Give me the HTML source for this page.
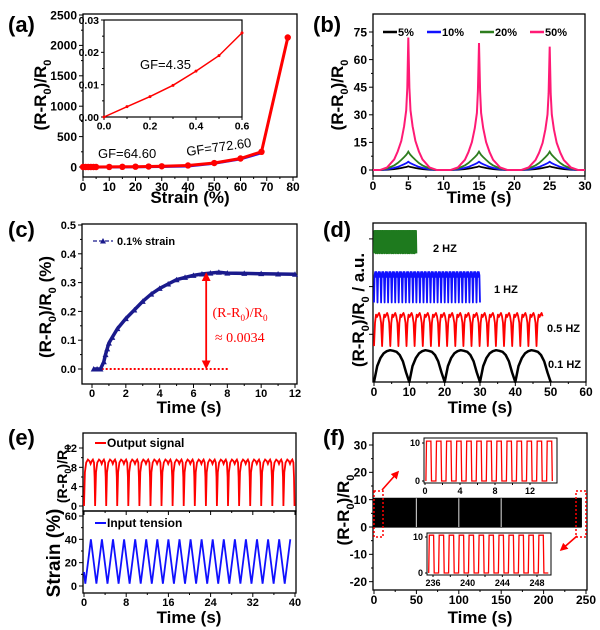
<!DOCTYPE html>
<html><head><meta charset="utf-8">
<style>
body{margin:0;background:#fff}
svg{display:block}
text{font-family:"Liberation Sans",Arial,sans-serif}
</style></head>
<body>
<svg id="fig" width="600" height="630" viewBox="0 0 600 630" xmlns="http://www.w3.org/2000/svg">
<defs>
<marker id="ah" viewBox="0 0 10 10" refX="8" refY="5" markerWidth="5" markerHeight="5" orient="auto-start-reverse"><path d="M0,0 L10,5 L0,10 z" fill="#f00"/></marker>
</defs>
</svg>
<script>
// ---------- DATA ----------
// (a)
const aStrain=[0,1,2,3,4,5,10,15,20,25,30,40,50,60,68,78];
const aResp=[0,0,0,0,0,0,1,3,5,8,12,25,65,140,250,2130];
const aBlueStrain=[0,10,20,30,40,50,60,68];
const aBlueResp=[-10,-8,-5,0,8,55,125,225];
const aInsetX=[0,0.1,0.2,0.3,0.4,0.5,0.6];
const aInsetY=[0,0.0032,0.0063,0.0098,0.0142,0.019,0.026];
const aXTicks=[0,10,20,30,40,50,60,70,80];
const aYTicks=[0,500,1000,1500,2000,2500];
// (b)
const bCenters=[5,15,25];
const bNames=['5%','10%','20%','50%'];
const bPeaks=[[2,2,2],[4.5,4.5,4.5],[10,10,10],[72,69,67]];
const bProfileOffsets=[-4,-3,-2,-1.5,-1,-0.6,-0.3,-0.15,0,0.15,0.3,0.6,1,1.5,2,3,4];
const bProfileFrac=[0,0.02,0.08,0.14,0.22,0.33,0.45,0.62,1,0.62,0.45,0.33,0.22,0.14,0.08,0.02,0];
const bProfileFracWide=[0,0.08,0.25,0.38,0.55,0.7,0.82,0.9,1,0.9,0.82,0.7,0.55,0.38,0.25,0.08,0];
const bXTicks=[0,5,10,15,20,25,30];
const bYTicks=[0,15,30,45,60,75];
// (c)
const cT=[0.1,0.3,0.5,0.7,0.8,0.9,1.0,1.2,1.5,2,2.5,3,3.5,4,4.5,5,5.5,6,6.5,7,7.5,8,9,10,11,12];
const cV=[0,0,0,0.025,0.05,0.07,0.09,0.11,0.14,0.175,0.205,0.235,0.26,0.28,0.295,0.31,0.318,0.325,0.33,0.333,0.336,0.333,0.332,0.331,0.33,0.329];
const cXTicks=[0,2,4,6,8,10,12];
const cYTicks=[0,0.1,0.2,0.3,0.4,0.5];
// (d)
const dLabels=['0.1 HZ','0.5 HZ','1 HZ','2 HZ'];
const dDur=[50,48,30,12];
const dPeriod=[10,2.3,1,0.5];
const dBase=[0,1.13,2.45,3.74];
const dAmp=[1,1.04,1.01,1.01];
const dShapes=[[0,0.5,0.75,0.9,0.97,1,0.98,0.95,0.85,0.65,0.3,0],[0,0.7,0.95,0.88,0.95,1,0.9,0.7,0],[0.05,0.9,1,0.85,1,0.9,0.05],[0.3,1,0.95,1,0.3]];
const dXTicks=[0,10,20,30,40,50,60];
const dYTicks=[1.5,3,4.5];
// (e)
const ePeriod=2.1;
const eRedPhase=[0,0.08,0.2,0.35,0.5,0.6,0.7,0.8,0.9,0.96,1];
const eRedVal=[0,7,9,9.6,9.3,8.7,9.3,9.6,9,6,0];
const eBluePhase=[0,0.5,1];
const eBlueVal=[2,40,2];
const eXTicks=[0,8,16,24,32,40];
const eTopYTicks=[0,4,8,12];
const eBotYTicks=[0,20,40,60];
// (f)
const fDur=245;
const fPeriod=1.15;
const fPhase=[0,0.06,0.5,0.56,1];
const fVal=[0,10.5,10.5,0,0];
const fGaps=[50,100,150];
const fXTicks=[0,50,100,150,200,250];
const fYTicks=[-20,-10,0,10,20,30];
const fTopInsetTicks=[0,4,8,12];
const fBotInsetTicks=[236,240,244,248];

// ---------- HELPERS ----------
const NS='http://www.w3.org/2000/svg';
const svg=document.getElementById('fig');
function el(tag,attrs,parent){const e=document.createElementNS(NS,tag);for(const k in attrs)e.setAttribute(k,attrs[k]);(parent||svg).appendChild(e);return e;}
function lin(d0,d1,r0,r1){return v=>r0+(v-d0)*(r1-r0)/(d1-d0);}
function T(x,y,str,size,anchor,weight,fill,rot){
  const t=el('text',{x:x,y:y,'font-size':size,'text-anchor':anchor||'middle','font-weight':weight||'bold',fill:fill||'#000'});
  if(rot)t.setAttribute('transform','rotate('+rot+' '+x+' '+y+')');
  t.textContent=str;return t;
}
function ratioTitle(x,y,size,rot,suffix,fill,family){
  const t=el('text',{x:x,y:y,'font-size':size,'text-anchor':'middle','font-weight':family?'normal':'bold',fill:fill||'#000'});
  if(family)t.setAttribute('style','font-family:'+family);
  if(rot)t.setAttribute('transform','rotate('+rot+' '+x+' '+y+')');
  const parts=[['(R-R',0],['0',1],[')/R',-1],['0',1],[suffix||'',-1]];
  parts.forEach(p=>{const s=el('tspan',{},t);s.textContent=p[0];
    if(p[1]===1){s.setAttribute('font-size',size*0.65);s.setAttribute('dy',size*0.28);}
    else if(p[1]===-1){s.setAttribute('dy',-size*0.28);}
  });
  return t;
}
function poly(pts,attrs){const p=el('polyline',Object.assign({points:pts.map(q=>q[0].toFixed(1)+','+q[1].toFixed(1)).join(' '),fill:'none'},attrs));return p;}
function axes(c){
  const g=el('g',{});
  
  
  const fr=el('rect',{x:c.L,y:c.T,width:c.R-c.L,height:c.B-c.T,fill:'none',stroke:'#000','stroke-width':c.sw||1.3},g);
  
  
  const fs=c.fs||12;
  if(c.xt){c.xt.forEach((v,i)=>{const x=c.xs(v);
    const tk=el('line',{x1:x,x2:x,y1:c.B,y2:c.B+(c.tl||4),stroke:'#000','stroke-width':1},g);
    
    
    if(i<c.xt.length-1){const xm=c.xs((v+c.xt[i+1])/2);
      const mt=el('line',{x1:xm,x2:xm,y1:c.B,y2:c.B+2,stroke:'#000','stroke-width':1},g);
      
      }
    if(!c.noXL){const lb=T(x,c.B+fs+2,c.xd!=null?v.toFixed(c.xd):String(v),fs,'middle','bold','#000');
      
      }
  });}
  if(c.yt){c.yt.forEach((v,i)=>{const y=c.ys(v);
    const tk=el('line',{x1:c.L-(c.tl||4),x2:c.L,y1:y,y2:y,stroke:'#000','stroke-width':1},g);
    
    
    if(!c.noYMinor&&i<c.yt.length-1){const ym=c.ys((v+c.yt[i+1])/2);
      const mt=el('line',{x1:c.L-2,x2:c.L,y1:ym,y2:ym,stroke:'#000','stroke-width':1},g);
      
      }
    if(!c.noYL){const lb=T(c.L-(c.tl||4)-2,y+fs*0.36,c.yd!=null?v.toFixed(c.yd):String(v),fs,'end','bold','#000');
      
      }
  });}
  return g;
}
function repeatWave(t0,t1,period,phase,val,xs,ys,base,amp){
  const pts=[];let k=0;
  while(t0+k*period<t1){for(let j=0;j<phase.length;j++){const t=t0+(k+phase[j])*period;if(t>t1)break;pts.push([xs(t),ys(base+amp*val[j])]);}k++;}
  return pts;
}
let e;

// ---------- PANEL A ----------
const aXs=lin(0,80,83,293), aYs=lin(0,2500,167,15);
axes({name:'panel-a-axes',L:83,R:297,T:14,B:177,xs:aXs,ys:aYs,xt:aXTicks,yt:aYTicks});
e=poly(aBlueStrain.map((v,i)=>[aXs(v),aYs(aBlueResp[i])]),{stroke:'#1010ff','stroke-width':2});


e=poly(aStrain.map((v,i)=>[aXs(v),aYs(aResp[i])]),{stroke:'#f00','stroke-width':3});


aStrain.forEach((v,i)=>{const m=el('circle',{cx:aXs(v),cy:aYs(aResp[i]),r:3.2,fill:'#f00'});
  
  });
const aiXs=lin(0,0.6,104,242), aiYs=lin(0,0.03,117,20);
e=el('rect',{x:104,y:20,width:138,height:97,fill:'#fff'});


axes({name:'panel-a-inset-axes',L:104,R:242,T:20,B:117,xs:aiXs,ys:aiYs,xt:[0,0.2,0.4,0.6],yt:[0,0.01,0.02,0.03],xd:1,yd:2,fs:10.5,tl:3,sw:1.2});
e=poly(aInsetX.map((v,i)=>[aiXs(v),aiYs(aInsetY[i])]),{stroke:'#f00','stroke-width':1.5});


aInsetX.forEach((v,i)=>{const m=el('circle',{cx:aiXs(v),cy:aiYs(aInsetY[i]),r:1.5,fill:'#f00'});
  
  });
e=T(140,69,'GF=4.35',13,'start','normal');


e=T(98,158,'GF=64.60',13,'start','normal');


e=T(187,156,'GF=772.60',13,'start','normal','#000',-8);


e=T(190,203,'Strain (%)',17);


e=ratioTitle(46,95,17,-90);


e=T(8,32,'(a)',22,'start');



// ---------- PANEL B ----------
const bXs=lin(0,30,373,585), bYs=lin(0,75,170,32);
const bColors=['#000','#1010ff','#2e7d1e','#ff1a75'];
axes({name:'panel-b-axes',L:373,R:585,T:14,B:176,xs:bXs,ys:bYs,xt:bXTicks,yt:bYTicks});
bNames.forEach((nm,si)=>{
  const prof=si===3?bProfileFrac:bProfileFracWide;
  const pts=[[bXs(0),bYs(0)]];
  bCenters.forEach((c,ci)=>{bProfileOffsets.forEach((o,j)=>{pts.push([bXs(c+o),bYs(bPeaks[si][ci]*prof[j])]);});});
  pts.push([bXs(30),bYs(0)]);
  const p=poly(pts,{stroke:bColors[si],'stroke-width':si===3?2:1.8});
  
  
});
const bLegX=[383,427,480,530];
bNames.forEach((nm,si)=>{
  const l=el('line',{x1:bLegX[si],x2:bLegX[si]+14,y1:32,y2:32,stroke:bColors[si],'stroke-width':2.5});
  
  
  const t=T(bLegX[si]+15,36,nm,11,'start');
  
  
});
e=T(479,203,'Time (s)',17);


e=ratioTitle(343,95,17,-90);


e=T(313,32,'(b)',22,'start');



// ---------- PANEL C ----------
const cXs=lin(0,12,92,295), cYs=lin(0,0.5,369,225);
axes({name:'panel-c-axes',L:82,R:297,T:224,B:384,xs:cXs,ys:cYs,xt:cXTicks,yt:cYTicks,yd:1,fs:11});
e=el('line',{x1:cXs(0.1),x2:cXs(8.1),y1:cYs(0),y2:cYs(0),stroke:'#f00','stroke-width':2,'stroke-dasharray':'2,2'});


e=poly(cT.map((t,i)=>[cXs(t),cYs(cV[i])]),{stroke:'#1a1a8c','stroke-width':3.5});


cT.forEach((t,i)=>{const x=cXs(t),y=cYs(cV[i]);
  const m=el('polygon',{points:(x-3)+','+(y+2.5)+' '+(x+3)+','+(y+2.5)+' '+x+','+(y-3),fill:'#1a1a8c'});
  
  });
e=el('line',{x1:cXs(6.75),x2:cXs(6.75),y1:cYs(0.005),y2:cYs(0.33),stroke:'#f00','stroke-width':1.8,'marker-start':'url(#ah)','marker-end':'url(#ah)'});


e=ratioTitle(240,317,14,0,'','#f00','"Liberation Serif",serif');


e=T(215,342,'≈ 0.0034',14,'start','normal','#f00');
e.setAttribute('style','font-family:"Liberation Serif",serif');


e=el('line',{x1:93,x2:113,y1:241,y2:241,stroke:'#1a1a8c','stroke-width':1.2,'stroke-dasharray':'4,2'});


e=el('polygon',{points:'100,243.5 106,243.5 103,238',fill:'#1a1a8c'});


e=T(117,245,'0.1% strain',11,'start');


e=T(189,413,'Time (s)',17);


e=ratioTitle(51,307,17,-90,' (%)');


e=T(8,237,'(c)',22,'start');



// ---------- PANEL D ----------
const dXs=lin(0,60,374,586), dYs=lin(0,5,382,223);
const dColors=['#000','#f00','#1010ff','#1e7a1e'];
axes({name:'panel-d-axes',L:373,R:586,T:223,B:382,xs:dXs,ys:dYs,xt:dXTicks,yt:dYTicks,noYL:true,noYMinor:true});
dLabels.forEach((lb,i)=>{
  const ph=dShapes[i].map((_,j)=>j/(dShapes[i].length-1));
  const pts=repeatWave(0,dDur[i],dPeriod[i],ph,dShapes[i],dXs,dYs,dBase[i],dAmp[i]);
  const p=poly(pts,{stroke:dColors[i],'stroke-width':i===0?2.5:1.8,'stroke-linejoin':'round'});
  
  
});
e=el('rect',{x:dXs(0),y:dYs(dBase[3]+dAmp[3]),width:dXs(dDur[3])-dXs(0),height:(dYs(dBase[3]+0.35)-dYs(dBase[3]+dAmp[3])),fill:'#1e7a1e'});


const dLabX=[548,547,494,433], dLabY=[368,332,293,252];
dLabels.forEach((lb,i)=>{const t=T(dLabX[i],dLabY[i],lb,11,'start');
  
  });
e=T(480,413,'Time (s)',17);


e=ratioTitle(364,310,17,-90,' / a.u.');


e=T(323,237,'(d)',22,'start');



// ---------- PANEL E ----------
const eXs=lin(0,40,84,295), eTYs=lin(0,12,506,448), eBYs=lin(0,60,586,516);
axes({name:'panel-e-top-axes',L:83,R:296,T:433,B:511,xs:eXs,ys:eTYs,xt:eXTicks,yt:eTopYTicks,noXL:true,fs:11});
axes({name:'panel-e-bottom-axes',L:83,R:296,T:511,B:593,xs:eXs,ys:eBYs,xt:eXTicks,yt:eBotYTicks,fs:11});
e=poly(repeatWave(0,40,ePeriod,eRedPhase,eRedVal,eXs,eTYs,0,1),{stroke:'#f00','stroke-width':1.8});


e=poly([[eXs(0),eBYs(12)]].concat(repeatWave(0.25,40,ePeriod,eBluePhase,eBlueVal,eXs,eBYs,0,1)),{stroke:'#1010ff','stroke-width':1.8});


e=el('line',{x1:95,x2:106,y1:443,y2:443,stroke:'#f00','stroke-width':2});


e=T(107,447,'Output signal',12,'start');


e=el('line',{x1:95,x2:106,y1:523,y2:523,stroke:'#1010ff','stroke-width':2});


e=T(107,527,'Input tension',12,'start');


e=T(189,623,'Time (s)',17);


e=ratioTitle(67,474,14,-90);


e=T(60,553,'Strain (%)',19,'middle','bold','#000',-90);


e=T(8,445,'(e)',22,'start');



// ---------- PANEL F ----------
const fXs=lin(0,250,374,586), fYs=lin(0,30,527,445);
axes({name:'panel-f-axes',L:373,R:587,T:433,B:590,xs:fXs,ys:fYs,xt:fXTicks,yt:fYTicks});
e=poly(repeatWave(0,fDur,fPeriod,fPhase,fVal,fXs,fYs,0,1),{stroke:'#000','stroke-width':1.2});


e=el('rect',{x:fXs(0),y:fYs(10.5),width:fXs(fDur)-fXs(0),height:fYs(0)-fYs(10.5),fill:'#000'});


fGaps.forEach(g=>{const l=el('line',{x1:fXs(g),x2:fXs(g),y1:fYs(0),y2:fYs(10.5),stroke:'#bbb','stroke-width':1.2});
  
  });
[[374,383],[576,586]].forEach(b=>{const r=el('rect',{x:b[0],y:491,width:b[1]-b[0],height:46,fill:'none',stroke:'#f00','stroke-width':1.5,'stroke-dasharray':'2,2'});
  
  });
e=el('line',{x1:382,y1:490,x2:398,y2:472,stroke:'#f00','stroke-width':1.6,'marker-end':'url(#ah)'});


e=el('line',{x1:577,y1:536,x2:561,y2:550,stroke:'#f00','stroke-width':1.6,'marker-end':'url(#ah)'});


// top inset
const ftXs=lin(0,12,425,530), ftYs=lin(0,10,481,443);
e=el('rect',{x:424,y:438,width:133,height:45,fill:'#fff'});


axes({name:'panel-f-top-inset-axes',L:424,R:557,T:438,B:483,xs:ftXs,ys:ftYs,xt:fTopInsetTicks,yt:[0,10],fs:9,tl:2,sw:1,noYMinor:true});
e=poly(repeatWave(0.1,14.7,fPeriod,fPhase,fVal,ftXs,ftYs,0,1),{stroke:'#f00','stroke-width':1.3});


// bottom inset
const fbXs=lin(236,248,433,537), fbYs=lin(0,10,573,537);
e=el('rect',{x:427,y:533,width:124,height:42,fill:'#fff'});


axes({name:'panel-f-bottom-inset-axes',L:427,R:551,T:533,B:575,xs:fbXs,ys:fbYs,xt:fBotInsetTicks,yt:[0,10],fs:9,tl:2,sw:1,noYMinor:true});
e=poly(repeatWave(235.5,249.3,fPeriod,fPhase,fVal,fbXs,fbYs,0,1),{stroke:'#f00','stroke-width':1.3});


e=T(480,623,'Time (s)',17);


e=ratioTitle(349,510,17,-90);


e=T(323,445,'(f)',22,'start');


</script>
</body></html>
